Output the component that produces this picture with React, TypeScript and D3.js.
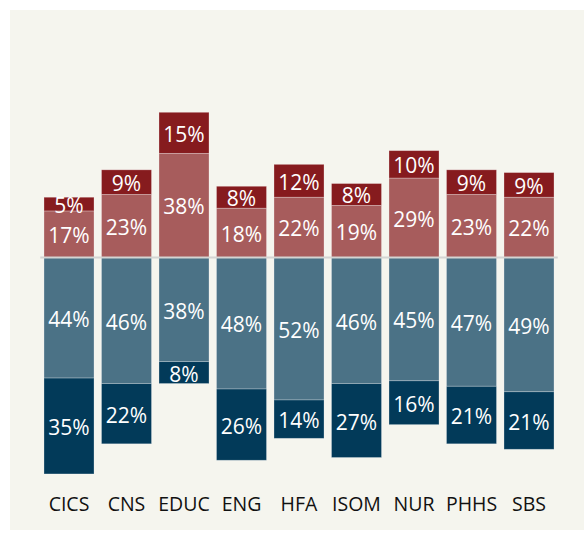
import React from "react";
import * as d3 from "d3";

const categories = ["CICS", "CNS", "EDUC", "ENG", "HFA", "ISOM", "NUR", "PHHS", "SBS"];
const agreeSome = [17, 23, 38, 18, 22, 19, 29, 23, 22];
const agreeStrong = [5, 9, 15, 8, 12, 8, 10, 9, 9];
const disagreeSome = [44, 46, 38, 48, 52, 46, 45, 47, 49];
const disagreeStrong = [35, 22, 8, 26, 14, 27, 16, 21, 21];

const W = 584;
const H = 538;
const FONT = "'Open Sans', 'Noto Sans', sans-serif";

const colors = {
  agreeStrong: "#861b1e",
  agreeSome: "#a75c5c",
  disagreeSome: "#4b7286",
  disagreeStrong: "#023a59",
};

export default function App() {
  const x = d3
    .scaleBand<string>()
    .domain(categories)
    .range([40.25, 557.75])
    .paddingInner(0.13)
    .paddingOuter(0.065);
  const y = d3.scaleLinear().domain([-100, 100]).range([257.5 + 274, 257.5 - 274]);

  type Seg = { cat: string; y0: number; y1: number; v: number; color: string };
  const segs: Seg[] = [];
  categories.forEach((c, i) => {
    segs.push({ cat: c, y0: 0, y1: agreeSome[i], v: agreeSome[i], color: colors.agreeSome });
    segs.push({
      cat: c,
      y0: agreeSome[i],
      y1: agreeSome[i] + agreeStrong[i],
      v: agreeStrong[i],
      color: colors.agreeStrong,
    });
    segs.push({ cat: c, y0: -disagreeSome[i], y1: 0, v: disagreeSome[i], color: colors.disagreeSome });
    segs.push({
      cat: c,
      y0: -disagreeSome[i] - disagreeStrong[i],
      y1: -disagreeSome[i],
      v: disagreeStrong[i],
      color: colors.disagreeStrong,
    });
  });

  const bw = x.bandwidth();

  return (
    <svg
      width={W}
      height={H}
      style={{ position: "absolute", left: 0, top: 0 }}
      xmlns="http://www.w3.org/2000/svg"
    >
      <rect x={0} y={0} width={W} height={H} fill="#ffffff" />
      <rect x={10} y={10} width={W - 10} height={520} fill="#f5f5ee" />
      {segs.map((s, i) => (
        <rect
          key={"r" + i}
          x={x(s.cat)}
          y={y(s.y1)}
          width={bw}
          height={y(s.y0) - y(s.y1)}
          fill={s.color}
          stroke="rgba(255,255,255,0.35)"
          strokeWidth={0.8}
        />
      ))}
      <line x1={x.range()[0]} x2={x.range()[1]} y1={y(0)} y2={y(0)} stroke="#d4d4d2" strokeWidth={2} />
      {segs.map((s, i) => (
        <text
          key={"t" + i}
          x={(x(s.cat) as number) + bw / 2}
          y={(y(s.y0) + y(s.y1)) / 2 + 1}
          textAnchor="middle"
          dominantBaseline="central"
          fill="#ffffff"
          fontFamily={FONT}
          fontSize={21}
        >
          {s.v}%
        </text>
      ))}
      {categories.map((c) => (
        <text
          key={"c" + c}
          x={(x(c) as number) + bw / 2}
          y={511}
          textAnchor="middle"
          fill="#111111"
          fontFamily={FONT}
          fontSize={19.5}
        >
          {c}
        </text>
      ))}
    </svg>
  );
}
